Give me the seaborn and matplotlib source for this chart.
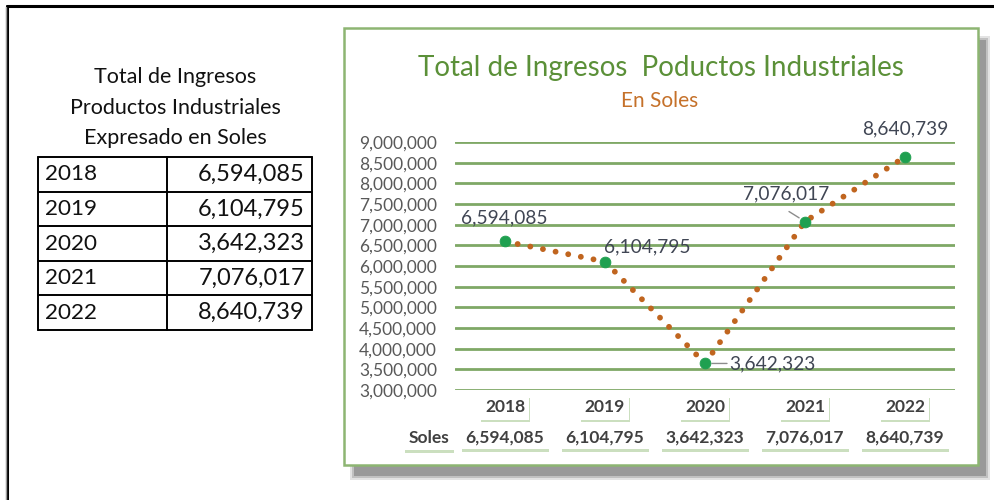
import numpy as np
import pandas as pd
import matplotlib.pyplot as plt
import matplotlib.patheffects as pe
from matplotlib.patches import Rectangle
from matplotlib.lines import Line2D
import seaborn as sns

years = ['2018', '2019', '2020', '2021', '2022']
ingresos = [6594085, 6104795, 3642323, 7076017, 8640739]
label_offsets = [(-1, 24), (42, 15), (67, 0), (-19, 28), (0, 28)]  # pixels

sns.set_style('white')
plt.rcParams['font.family'] = ['Lato', 'DejaVu Sans']

df = pd.DataFrame({'pos': range(len(years)), 'year': years, 'soles': ingresos})

W, H = 995, 500
fig = plt.figure(figsize=(W / 100, H / 100), dpi=100)


def fx(px):
    return px / W


def fy(py):
    return 1 - py / H


# outer frame (top and left black lines)
fig.add_artist(Line2D([fx(7), 1], [fy(6), fy(6)], color='black', lw=2.2))
fig.add_artist(Line2D([fx(7), fx(7)], [fy(6), 0], color='black', lw=2.2))
fig.add_artist(Line2D([fx(5.5), fx(5.5)], [fy(7), 0], color='#999999', lw=1))

# ---- left table ----
for i, t in enumerate(['Total de Ingresos', 'Productos Industriales', 'Expresado en Soles']):
    fig.text(fx(175), fy(77 + 30.5 * i), t, ha='center', va='center', fontsize=15.5, color='#111111')

tx0, tx1, tmid = 38, 312, 167
ty0, rh = 157, 34.6
for i in range(len(years) + 1):
    y = ty0 + rh * i
    fig.add_artist(Line2D([fx(tx0), fx(tx1)], [fy(y), fy(y)], color='black', lw=1.4))
for x in (tx0, tmid, tx1):
    fig.add_artist(Line2D([fx(x), fx(x)], [fy(ty0), fy(ty0 + rh * len(years))], color='black', lw=1.4))
for i, (yr, v) in enumerate(zip(years, ingresos)):
    yc = ty0 + rh * (i + 0.5)
    fig.text(fx(45), fy(yc), yr, ha='left', va='center', fontsize=16.2, color='#111111')
    fig.text(fx(305), fy(yc), f'{v:,}', ha='right', va='center', fontsize=17, color='#111111')

# ---- chart panel with shadow ----
for k, (a, c) in enumerate([(0.35, '#b0b0b0'), (0.5, '#a0a0a0'), (0.9, '#959595')]):
    d = 2 * k
    fig.add_artist(Rectangle((fx(350 + d), fy(480 - d)), fx(640 - 2 * d), (444 - 2 * d) / H,
                             facecolor=c, edgecolor='none', alpha=a, zorder=0.1))
fig.add_artist(Rectangle((fx(344), fy(465)), fx(634), 437 / H,
                         facecolor='white', edgecolor='#8db572', lw=1.8, zorder=0.2))

fig.text(fx(661), fy(68), 'Total de Ingresos  Poductos Industriales', ha='center', va='center',
         fontsize=20, color='#5b9038')
fig.text(fx(660), fy(101), 'En Soles', ha='center', va='center', fontsize=15, color='#c5712a')

ax = fig.add_axes([fx(455), fy(390), fx(500), 248 / H])
ax.set_zorder(3)
ax.set_facecolor('none')
sns.lineplot(data=df, x='pos', y='soles', ax=ax, color='#c0651f', lw=4.2,
             linestyle=(0, (0.01, 2.2)), dash_capstyle='round', zorder=3)
sns.scatterplot(data=df, x='pos', y='soles', ax=ax, color='#1fa050', s=60,
                edgecolor='#1fa050', zorder=4)

ax.set_xlim(-0.5, len(years) - 0.5)
ax.set_ylim(3000000, 9000000)
ticks = np.arange(3000000, 9000001, 500000)
ax.set_yticks(ticks)
ax.set_yticklabels([f'{t:,}' for t in ticks], fontsize=12.5, color='#595959')
for t in ticks:
    ax.axhline(t, color='#7fa866', lw=2, zorder=1)
ax.set_xticks([])
ax.tick_params(axis='y', length=0, pad=13)
ax.set_xlabel('')
ax.set_ylabel('')
for s in ax.spines.values():
    s.set_visible(False)

for i, (v, off) in enumerate(zip(ingresos, label_offsets)):
    ax.annotate(f'{v:,}', xy=(i, v), xytext=off, textcoords='offset pixels',
                ha='center', va='center', fontsize=13.8, color='#404654')
# leader lines for 2020 and 2021
ax.annotate('', xy=(2, ingresos[2]), xytext=(22, 0), textcoords='offset pixels',
            arrowprops=dict(arrowstyle='-', color='#8c8c8c', lw=1, shrinkA=0, shrinkB=5))
ax.annotate('', xy=(3, ingresos[3]), xytext=(-16, 10), textcoords='offset pixels',
            arrowprops=dict(arrowstyle='-', color='#8c8c8c', lw=1, shrinkA=0, shrinkB=5))

# category labels and data table row
shadow = [pe.withSimplePatchShadow(offset=(0.5, -2), shadow_rgbFace='#8cb872', alpha=0.45)]
box = dict(boxstyle='square,pad=0.25', fc='white', ec='none')
for i, yr in enumerate(years):
    t = ax.text(i, -0.07, yr, transform=ax.get_xaxis_transform(), ha='center', va='center',
                fontsize=12.5, fontweight='bold', color='#404040', bbox=box)
    t.get_bbox_patch().set_path_effects(shadow)
    t = ax.text(i, -0.19, f'{ingresos[i]:,}', transform=ax.get_xaxis_transform(), ha='center',
                va='center', fontsize=12.5, fontweight='bold', color='#404040', bbox=box)
    t.get_bbox_patch().set_path_effects(shadow)
t = fig.text(fx(429), fy(438), 'Soles', ha='center', va='center', fontsize=12.5,
             fontweight='bold', color='#404040', zorder=4, bbox=box)
t.get_bbox_patch().set_path_effects(shadow)

fig.savefig('out.png', dpi=100)
